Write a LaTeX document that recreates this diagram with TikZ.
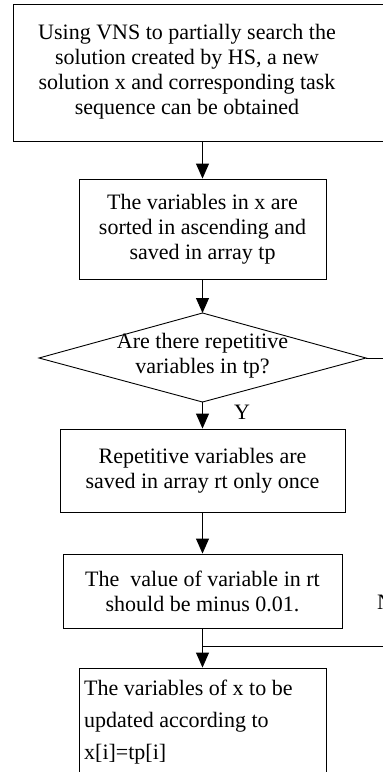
\documentclass[tikz,border=0pt]{standalone}
\usepackage{fontspec}
\setmainfont{Liberation Serif}
\usetikzlibrary{arrows.meta}
\begin{document}
\begin{tikzpicture}[x=1pt,y=-1pt,
  box/.style={draw, line width=0.9pt, inner sep=0pt, align=center, font=\fontsize{22}{25}\selectfont},
  lbl/.style={inner sep=0pt, font=\fontsize{22}{25}\selectfont},
  arr/.style={line width=0.9pt, -{Triangle[width=13pt,length=15pt]}},
  ln/.style={line width=0.9pt}]
\useasboundingbox (0,0) rectangle (383,772);
% box 1
\node[box, minimum width=387pt, minimum height=137pt] (b1) at (206.5,72.5) {};
\node[lbl, align=center] (t1) at (187,72) {Using VNS to partially search the\\solution created by HS, a new\\solution x and corresponding task\\sequence can be obtained};
% box 2
\node[box, minimum width=247pt, minimum height=100pt] (b2) at (202.5,229) {The variables in x are\\sorted in ascending and\\saved in array tp};
% diamond
\coordinate (dt) at (202.5,313);
\coordinate (dl) at (39,358);
\coordinate (dr) at (366,358);
\coordinate (db) at (202.5,402);
\draw[ln] (dt) -- (dr) -- (db) -- (dl) -- cycle;
\node[lbl, align=center] (d) at (202.5,356) {Are there repetitive\\variables in tp?};
\coordinate (dx) at (395,358);
\draw[ln] (dr) -- (dx);
% box 3
\node[box, minimum width=285pt, minimum height=83pt] (b3) at (202.5,470.5) {Repetitive variables are\\saved in array rt only once};
% box 4
\node[box, minimum width=279pt, minimum height=74pt] (b4) at (202.5,591) {The~ value of variable in rt\\should be minus 0.01.};
% box 5
\node[box, minimum width=247pt, minimum height=140pt] (b5) at (202.5,738) {};
\node[lbl, align=left, anchor=west, font=\fontsize{22}{32}\selectfont] (t5) at (84,722) {The variables of x to be\\updated according to\\x[i]=tp[i]};
% labels
\node[lbl] (y) at (242,412) {Y};
\node[lbl, anchor=west] (n) at (377,602) {N};
% connectors
\draw[arr] (b1.south -| b2.north) -- (b2.north);
\draw[arr] (b2.south) -- (dt);
\draw[arr] (db) -- (b3.north);
\draw[arr] (b3.south) -- (b4.north);
\draw[arr] (b4.south) -- (b5.north);
\coordinate (j) at (202.5,646);
\coordinate (jr) at (395,646);
\draw[ln] (j) -- (jr);
\end{tikzpicture}
\end{document}
